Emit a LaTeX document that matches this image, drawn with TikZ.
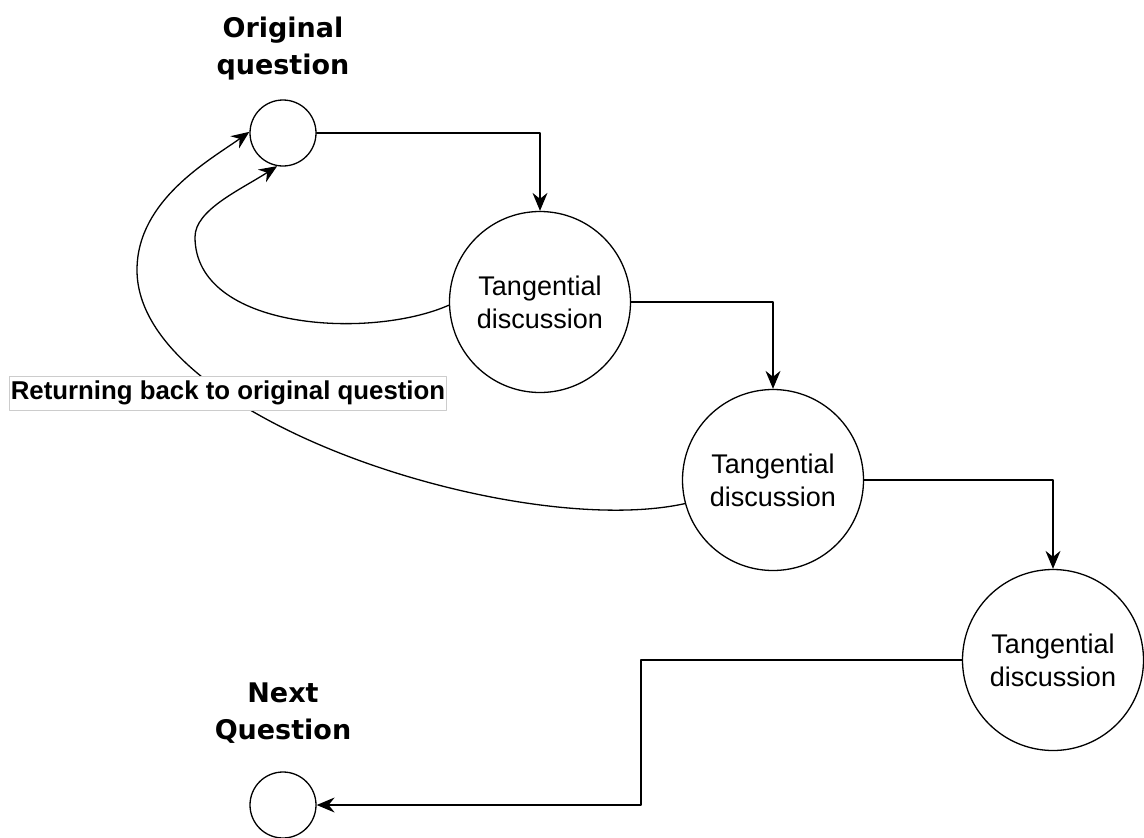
\documentclass[tikz,border=0pt]{standalone}
\usepackage{fontspec}
\setmainfont{Liberation Sans}
\newfontfamily\djvfont{DejaVu Sans}
\usetikzlibrary{arrows.meta}

\begin{document}
\begin{tikzpicture}[line cap=round,line join=round,x=1pt,y=-1pt,line width=1.3pt,
  link/.style={-{Stealth[length=18pt,width=15pt,inset=6pt]}},
  bigc/.style={draw,circle,minimum size=181pt,inner sep=0pt,align=center,font=\fontsize{27}{33}\selectfont},
  smallc/.style={draw,circle,minimum size=66pt,inner sep=0pt},
  qlabel/.style={align=center,font=\djvfont\bfseries\fontsize{27}{37}\selectfont}]
\useasboundingbox (0,0) rectangle (1144,838);
\node[smallc] (q0) at (283,133) {};
\node[qlabel] (q0lab) at (283,49) {Original\\question};
\node[bigc] (t1) at (540,302) {Tangential\\discussion};
\node[bigc] (t2) at (773,480) {Tangential\\discussion};
\node[bigc] (t3) at (1053,660) {Tangential\\discussion};
\node[smallc] (q1) at (283,805) {};
\node[qlabel] (q1lab) at (283,713) {Next\\Question};
\coordinate (turn) at (641,0);
\draw[link] (q0.east) -| (t1.north);
\draw[link] (t1.east) -| (t2.north);
\draw[link] (t2.east) -| (t3.north);
\draw[link] (t3.west) -- (t3.west -| turn) |- (q1.east);
% going back
\draw[link] (t1.182) .. controls (370,340) and (195,330) .. (195,237)
  .. controls (195,210) and (240,190) .. (q0.260);
\draw[link] (t2.195) .. controls (520,540) and (137,420) .. (137,270)
  .. controls (137,200) and (210,160) .. (q0.178);
\node[fill=white,draw=gray!40,line width=0.8pt,inner xsep=1.5pt,minimum height=34pt,
  font=\bfseries\fontsize{25.8}{30}\selectfont] (back) at (228,393) {Returning back to original question};
\end{tikzpicture}
\end{document}
